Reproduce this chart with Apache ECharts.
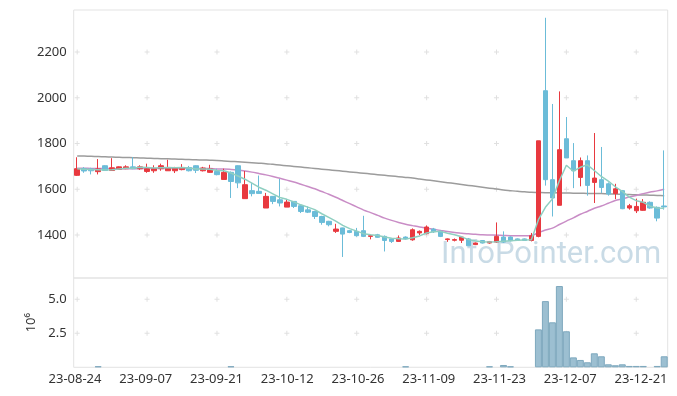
<!DOCTYPE html>
<html><head><meta charset="utf-8">
<script src="https://cdn.jsdelivr.net/npm/echarts@6/dist/echarts.min.js"></script>
<style>html,body{margin:0;padding:0;background:#fff}#c{width:677px;height:396px}</style>
</head><body><div id="c"></div>
<script>
const dates = ['23-08-24','23-08-25','23-08-28','23-08-29','23-08-30','23-08-31','23-09-01','23-09-04','23-09-05','23-09-06','23-09-07','23-09-08','23-09-11','23-09-12','23-09-13','23-09-14','23-09-15','23-09-18','23-09-19','23-09-20','23-09-21','23-09-22','23-09-25','23-09-26','23-09-27','23-10-04','23-10-05','23-10-06','23-10-10','23-10-11','23-10-12','23-10-13','23-10-16','23-10-17','23-10-18','23-10-19','23-10-20','23-10-23','23-10-24','23-10-25','23-10-26','23-10-27','23-10-30','23-10-31','23-11-01','23-11-02','23-11-03','23-11-06','23-11-07','23-11-08','23-11-09','23-11-10','23-11-13','23-11-14','23-11-15','23-11-16','23-11-17','23-11-20','23-11-21','23-11-22','23-11-23','23-11-24','23-11-27','23-11-28','23-11-29','23-11-30','23-12-01','23-12-04','23-12-05','23-12-06','23-12-07','23-12-08','23-12-11','23-12-12','23-12-13','23-12-14','23-12-15','23-12-18','23-12-19','23-12-20','23-12-21','23-12-22','23-12-26','23-12-27','23-12-28'];
const opens  = [1661,1691,1689,1677,1703,1682,1687,1690,1698,1690,1678,1681,1690,1681,1681,1686,1695,1703,1681,1674,1678,1643,1674,1703,1559,1594,1591,1518,1569,1554,1522,1547,1528,1510,1503,1481,1460,1416,1431,1419,1416,1419,1394,1401,1394,1383,1372,1391,1379,1409,1406,1426,1416,1380,1377,1377,1383,1358,1376,1365,1369,1391,1391,1383,1383,1376,1394,2031,1642,1530,1821,1725,1652,1725,1630,1642,1624,1581,1594,1518,1506,1508,1543,1521,1527];
const closes = [1690,1680,1681,1689,1682,1694,1698,1698,1690,1698,1690,1690,1703,1695,1693,1695,1681,1683,1693,1689,1664,1674,1634,1628,1620,1581,1582,1569,1547,1540,1544,1525,1503,1500,1481,1455,1445,1426,1404,1411,1397,1394,1397,1390,1376,1372,1387,1383,1423,1416,1435,1414,1394,1383,1380,1391,1353,1365,1365,1371,1394,1369,1375,1377,1376,1397,1812,1642,1562,1773,1737,1681,1725,1617,1649,1608,1579,1602,1515,1528,1525,1543,1518,1474,1523];
const lows   = [1658,1672,1665,1665,1680,1680,1685,1688,1688,1685,1672,1672,1681,1681,1671,1683,1678,1671,1678,1672,1661,1643,1562,1605,1559,1569,1580,1518,1535,1525,1522,1518,1496,1496,1470,1445,1438,1409,1304,1408,1393,1391,1381,1388,1328,1365,1370,1380,1375,1400,1403,1409,1391,1370,1372,1365,1353,1356,1363,1362,1365,1365,1372,1375,1374,1372,1390,1616,1481,1530,1737,1605,1613,1572,1540,1584,1572,1557,1513,1511,1496,1506,1515,1460,1511];
const highs  = [1740,1697,1694,1732,1705,1736,1700,1705,1741,1705,1712,1705,1712,1729,1698,1710,1702,1705,1698,1707,1690,1690,1678,1705,1680,1627,1660,1584,1570,1645,1557,1547,1533,1525,1506,1484,1462,1449,1432,1422,1431,1484,1398,1405,1398,1387,1398,1394,1429,1420,1442,1431,1420,1385,1385,1394,1387,1367,1378,1374,1455,1416,1394,1385,1385,1409,1812,2350,1973,2028,1916,1802,1739,1748,1846,1785,1630,1624,1597,1536,1559,1557,1547,1525,1770];
const volumes = [0,0,0,80000,0,0,0,0,0,0,0,0,0,0,0,0,0,0,0,0,0,0,80000,0,0,0,0,0,0,0,0,0,0,0,0,0,0,0,0,0,0,0,0,0,0,0,0,70000,0,0,0,0,0,0,0,0,0,0,0,70000,0,170000,70000,0,0,0,2790000,4870000,3310000,5980000,2650000,730000,540000,370000,1030000,810000,220000,150000,220000,100000,100000,100000,0,100000,810000];
const ma5   = [1690,1688,1686,1685,1684,1685,1689,1692,1692,1696,1695,1693,1694,1695,1694,1695,1693,1689,1689,1688,1682,1681,1671,1658,1644,1627,1609,1596,1580,1564,1556,1545,1532,1522,1511,1493,1477,1461,1442,1428,1417,1406,1401,1398,1391,1386,1384,1382,1388,1396,1409,1414,1416,1408,1401,1392,1380,1374,1371,1369,1370,1373,1375,1377,1378,1379,1467,1521,1558,1637,1705,1679,1696,1707,1682,1656,1636,1611,1591,1566,1550,1543,1526,1518,1517];
const ma20  = [1692,1692,1691,1691,1691,1690,1690,1690,1690,1690,1691,1691,1691,1691,1691,1691,1691,1691,1691,1691,1689,1689,1687,1684,1680,1675,1669,1663,1656,1648,1640,1632,1622,1612,1602,1590,1578,1565,1551,1537,1523,1509,1498,1486,1474,1464,1455,1447,1441,1435,1430,1425,1420,1415,1411,1408,1405,1403,1401,1400,1399,1398,1397,1397,1397,1398,1410,1422,1430,1446,1461,1475,1491,1503,1517,1527,1539,1551,1558,1566,1573,1581,1588,1593,1600];
const ma120 = [1746,1745,1744,1743,1742,1741,1740,1739,1738,1737,1736,1735,1734,1733,1732,1731,1730,1729,1728,1727,1726,1724,1722,1720,1718,1716,1714,1712,1709,1706,1703,1700,1697,1694,1691,1688,1685,1682,1679,1676,1673,1670,1667,1664,1661,1658,1655,1652,1649,1645,1641,1637,1633,1629,1625,1621,1617,1613,1609,1605,1601,1597,1594,1591,1589,1587,1586,1585,1585,1584,1584,1583,1583,1582,1582,1581,1580,1579,1578,1577,1576,1575,1574,1573,1572];
const priceTicks = [1400,1600,1800,2000,2200];
const volumeTicks = [2500000,5000000];
const labelStep = 10;

const candleData = dates.map((d,i)=>[opens[i],closes[i],lows[i],highs[i]]);
const volumeData = volumes.map(v=>v>0?v:null);
const labelIdx = dates.map((d,i)=>i).filter(i=>i%labelStep===0);
const crossMain = [], crossVol = [];
labelIdx.forEach(i=>{ priceTicks.forEach(t=>crossMain.push([dates[i],t])); volumeTicks.forEach(t=>crossVol.push([dates[i],t])); });

const FONT = 'Noto Sans';
const plusPath = 'path://M4,0H6V4H10V6H6V10H4V6H0V4H4Z';
const chart = echarts.init(document.getElementById('c'), null, {renderer:'canvas'});
chart.setOption({
  animation:false,
  backgroundColor:'#ffffff',
  grid:[
    {left:73.7, right:9.3, top:10, height:268, show:true, borderColor:'#e3e3e3', borderWidth:1, backgroundColor:'transparent'},
    {left:73.7, right:9.3, top:278, height:89.3, show:true, borderColor:'#e3e3e3', borderWidth:1, backgroundColor:'transparent'}
  ],
  xAxis:[
    {type:'category', gridIndex:0, data:dates, boundaryGap:true, axisLine:{show:false}, axisTick:{show:false}, axisLabel:{show:false}, splitLine:{show:false}},
    {type:'category', gridIndex:1, position:'top', data:dates, boundaryGap:true, axisLine:{show:false}, axisTick:{show:false}, axisLabel:{show:false}, splitLine:{show:false}},
    {type:'value', gridIndex:1, position:'bottom', min:-0.184, max:83.77, axisLine:{show:false}, axisTick:{show:false}, splitLine:{show:false},
     axisLabel:{customValues:labelIdx, formatter:v=>dates[Math.round(v)], color:'#333', fontSize:13, fontFamily:FONT, margin:5}}
  ],
  yAxis:[
    {type:'value', gridIndex:0, min:1212, max:2384, axisLine:{show:false}, axisTick:{show:false}, splitLine:{show:false},
     axisLabel:{customValues:priceTicks, formatter:v=>String(v), color:'#333', fontSize:13, fontFamily:FONT, margin:7}},
    {type:'value', gridIndex:1, min:0, max:6570000, axisLine:{show:false}, axisTick:{show:false}, splitLine:{show:false},
     axisLabel:{customValues:volumeTicks, color:'#333', fontSize:13, fontFamily:FONT, margin:7, formatter:v=>(v/1e6).toFixed(1)},
     name:'10⁶', nameLocation:'middle', nameRotate:90, nameGap:33,
     nameTextStyle:{color:'#333', fontSize:13, fontFamily:FONT}}
  ],
  graphic:[{type:'text', left:441, top:240, z:-10, silent:true,
    style:{text:'InfoPointer.com', fontSize:31, fontFamily:'Roboto', fill:'rgba(178,204,220,0.7)'}}],
  series:[
    {type:'scatter', xAxisIndex:0, yAxisIndex:0, data:crossMain, symbol:plusPath, symbolSize:5, silent:true, itemStyle:{color:'#d8d8d8'}, z:1},
    {type:'scatter', xAxisIndex:1, yAxisIndex:1, data:crossVol, symbol:plusPath, symbolSize:5, silent:true, itemStyle:{color:'#d8d8d8'}, z:1},
    {type:'line', xAxisIndex:0, yAxisIndex:0, data:ma120, showSymbol:false, smooth:0.3, lineStyle:{color:'#9c9c9c', width:1.5}, z:2},
    {type:'line', xAxisIndex:0, yAxisIndex:0, data:ma20, showSymbol:false, smooth:0.3, lineStyle:{color:'#c98dc6', width:1.5}, z:2},
    {type:'candlestick', xAxisIndex:0, yAxisIndex:0, data:candleData, barWidth:5,
     itemStyle:{color:'#e8393f', color0:'#6bbcd8', borderColor:'#e8393f', borderColor0:'#6bbcd8', borderWidth:1}, z:3},
    {type:'line', xAxisIndex:0, yAxisIndex:0, data:ma5, showSymbol:false, smooth:false, lineStyle:{color:'#8fcfc1', width:1.5}, z:4},
    {type:'bar', xAxisIndex:1, yAxisIndex:1, data:volumeData, barWidth:'100%',
     itemStyle:{color:'#9cbfd1', borderColor:'#7ea8be', borderWidth:1}}
  ]
});
</script></body></html>
